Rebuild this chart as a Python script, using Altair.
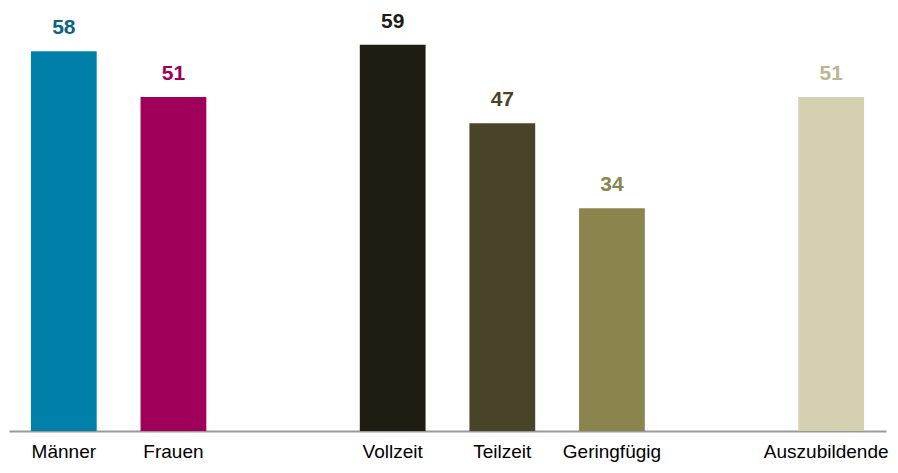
import altair as alt
import pandas as pd

categories = ["Männer", "Frauen", "_gap1", "Vollzeit", "Teilzeit", "Geringfügig", "_gap2", "Auszubildende"]
bar_categories = ["Männer", "Frauen", "Vollzeit", "Teilzeit", "Geringfügig", "Auszubildende"]
values = [58, 51, 59, 47, 34, 51]
bar_colors = ["#0080A8", "#A1005A", "#1F1C11", "#494429", "#8B844D", "#D5D0B0"]
label_colors = ["#0E6281", "#9E0059", "#1F1C11", "#494429", "#8B844D", "#BDB78F"]

df = pd.DataFrame({"cat": bar_categories, "value": values,
                   "lab": bar_categories})

FONT = "Liberation Sans, Arial"

x = alt.X("cat:N", scale=alt.Scale(domain=categories, paddingInner=0.4, paddingOuter=0.2),
          sort=categories,
          axis=alt.Axis(title=None, ticks=False, grid=False, domainColor="#999999", domainWidth=2,
                        labelFont=FONT, labelFontSize=19, labelColor="#000000", labelAngle=0,
                        labelPadding=11, labelBaseline="top",
                        labelOffset=alt.condition("datum.value == 'Auszubildende'", alt.value(-5), alt.value(0)),
                        labelExpr="indexof(datum.label, '_') == 0 ? '' : datum.label"))
y = alt.Y("value:Q", scale=alt.Scale(domain=[0, 64.6], nice=False, zero=True), axis=None)

bars = alt.Chart(df).mark_bar().encode(
    x=x, y=y,
    color=alt.Color("cat:N", scale=alt.Scale(domain=bar_categories, range=bar_colors), legend=None),
)
texts = alt.Chart(df).mark_text(font=FONT, fontSize=21, fontWeight="bold", baseline="alphabetic", dy=-17).encode(
    x=x, y=y, text=alt.Text("value:Q"),
    color=alt.Color("lab:N", scale=alt.Scale(domain=bar_categories, range=label_colors), legend=None),
)

chart = alt.layer(bars, texts).resolve_scale(color="independent").properties(
    width=877, height=423,
    background="white",
    autosize=alt.AutoSizeParams(type="none"),
    padding={"left": 1, "top": 0, "right": 4, "bottom": 34},
).configure_view(strokeWidth=0, stroke="transparent")

chart.save("out.html", embed_options={"renderer": "svg", "actions": False})
